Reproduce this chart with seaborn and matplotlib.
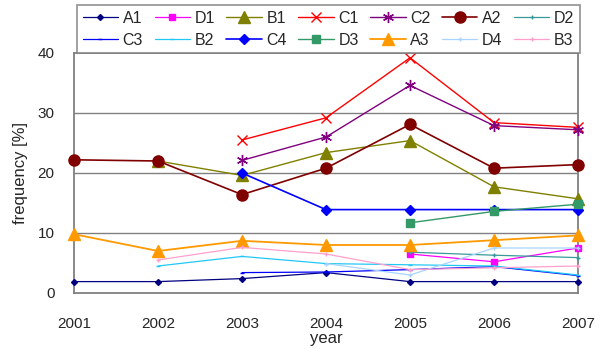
import numpy as np
import pandas as pd
import matplotlib
matplotlib.use("Agg")
import matplotlib.pyplot as plt
import seaborn as sns

nan = np.nan
years = [2001, 2002, 2003, 2004, 2005, 2006, 2007]
year_labels = ["2001", "2002", "2003", "2004", "2005", "2006", "2007"]
y_ticks = [0, 10, 20, 30, 40]

A1 = [1.9, 1.9, 2.4, 3.4, 1.9, 1.9, 1.9]
D1 = [nan, nan, nan, nan, 6.5, 5.2, 7.5]
B1 = [nan, 22.0, 19.6, 23.4, 25.4, 17.7, 15.7]
C1 = [nan, nan, 25.5, 29.2, 39.2, 28.4, 27.6]
C2 = [nan, nan, 22.1, 26.0, 34.6, 27.9, 27.2]
A2 = [22.2, 22.0, 16.4, 20.8, 28.1, 20.8, 21.4]
D2 = [nan, nan, nan, nan, 6.8, 6.3, 5.9]
C3 = [nan, nan, 3.4, 3.5, 3.9, 4.4, 2.9]
B2 = [nan, 4.5, 6.1, 4.9, 4.7, 4.5, 3.0]
C4 = [nan, nan, 20.0, 13.9, 13.9, 13.9, 13.9]
D3 = [nan, nan, nan, nan, 11.7, 13.6, 14.8]
A3 = [9.8, 7.0, 8.7, 8.0, 8.0, 8.8, 9.6]
D4 = [nan, nan, nan, 4.9, 3.0, 7.5, 7.5]
B3 = [nan, 5.5, 7.6, 6.5, 3.9, 4.2, 4.5]

series = {"A1": A1, "D1": D1, "B1": B1, "C1": C1, "C2": C2, "A2": A2, "D2": D2,
          "C3": C3, "B2": B2, "C4": C4, "D3": D3, "A3": A3, "D4": D4, "B3": B3}

# style: color, marker, markersize, linewidth
styles = {
    "A1": ("#000080", "D", 3.0, 0.9),
    "D1": ("#FF00FF", "s", 4.5, 0.9),
    "B1": ("#808000", "^", 8.0, 1.0),
    "C1": ("#FF0000", "x", 7.0, 1.0),
    "C2": ("#800080", (6, 2, 0), 8.0, 1.0),
    "A2": ("#800000", "o", 8.0, 1.2),
    "D2": ("#3A9A9A", "+", 3.0, 0.9),
    "C3": ("#0000FF", "_", 3.5, 0.9),
    "B2": ("#22C8F5", "_", 3.5, 0.9),
    "C4": ("#0000FF", "D", 5.5, 1.2),
    "D3": ("#339966", "s", 6.0, 1.0),
    "A3": ("#FF9900", "^", 8.0, 1.3),
    "D4": ("#A8D4FF", "+", 3.0, 0.9),
    "B3": ("#FFA0CC", "+", 3.0, 0.9),
}

rows = []
for name, vals in series.items():
    for yr, v in zip(years, vals):
        if not np.isnan(v):
            rows.append({"year": yr, "value": v, "series": name})
df = pd.DataFrame(rows)

sns.set_style("white")
plt.rcParams["font.family"] = ["Liberation Sans", "DejaVu Sans"]

fig = plt.figure(figsize=(6.0, 3.49), dpi=100)
ax = fig.add_axes([74 / 600, 1 - 293 / 349, (578 - 74) / 600, (293 - 53) / 349])

for g in y_ticks[1:-1]:
    ax.axhline(g, color="#808080", lw=1.0, zorder=0)

handles = {}
for name in series:
    col, mk, ms, lw = styles[name]
    sub = df[df["series"] == name]
    sns.lineplot(data=sub, x="year", y="value", ax=ax, color=col, marker=mk,
                 markersize=ms, linewidth=lw, markeredgecolor=col,
                 markeredgewidth=1.0, clip_on=False, legend=False, zorder=3)
    handles[name] = ax.lines[-1]

ax.set_xlim(2001, 2007)
ax.set_ylim(0, 40)
ax.set_xticks(years)
ax.set_xticklabels(year_labels)
ax.set_yticks(y_ticks)
ax.tick_params(axis="x", direction="in", length=4.5, width=1, color="#808080",
               pad=17, labelsize=11)
ax.tick_params(axis="y", length=0, pad=14, labelsize=11)
for sp in ax.spines.values():
    sp.set_color("#808080")
    sp.set_linewidth(1.3)
ax.set_xlabel("year", fontsize=12, labelpad=0)
ax.set_ylabel("frequency [%]", fontsize=12, labelpad=7)

order = ["A1", "C3", "D1", "B2", "B1", "C4", "C1", "D3", "C2", "A3", "A2", "D4", "D2", "B3"]
leg = fig.legend([handles[n] for n in order], order, ncol=7, loc="upper left",
                 bbox_to_anchor=(77 / 600, 1 - 49 / 349, (580 - 77) / 600, 44 / 349),
                 mode="expand", fontsize=11.5, frameon=True, fancybox=False,
                 borderpad=0.35, handlelength=2.2, handletextpad=0.3,
                 labelspacing=0.45, columnspacing=0.8, borderaxespad=0)
leg.get_frame().set_edgecolor("#808080")
leg.get_frame().set_linewidth(1.3)

fig.savefig("out.png", dpi=100)
